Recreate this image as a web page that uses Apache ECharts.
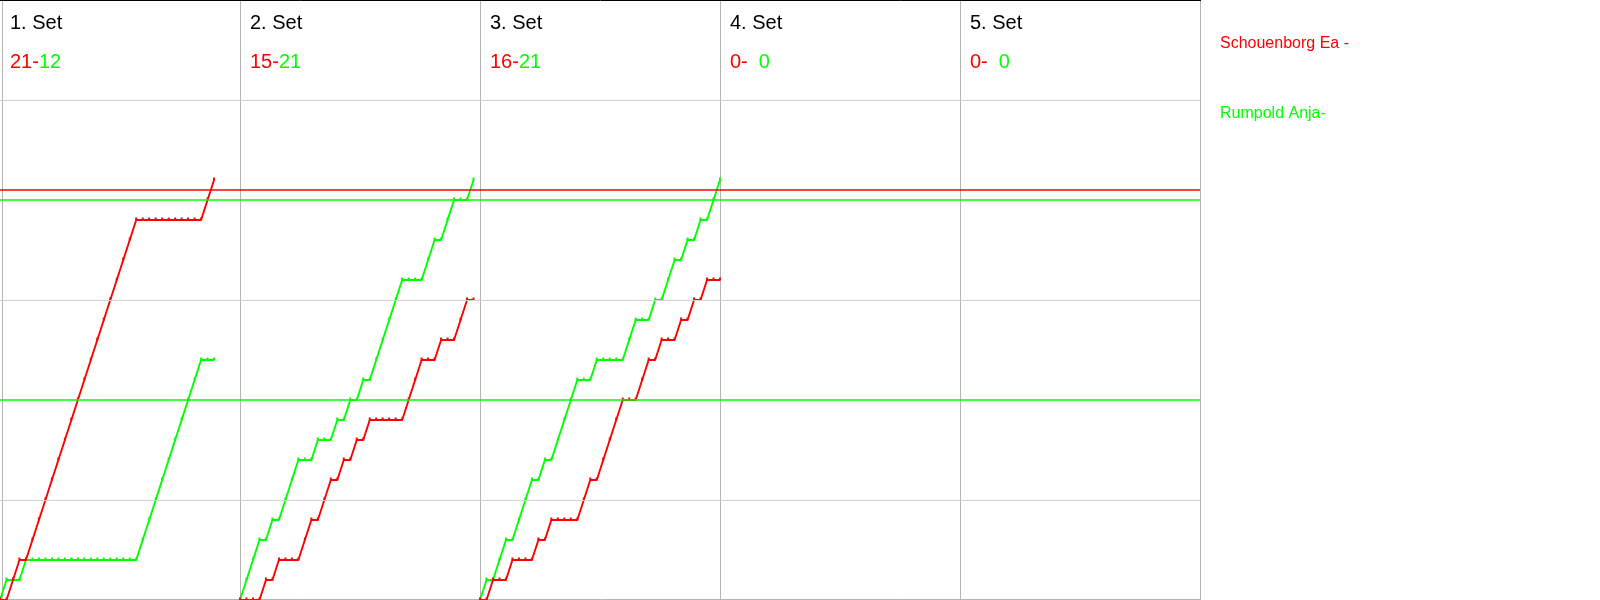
<!DOCTYPE html>
<html><head><meta charset="utf-8">
<script src="https://cdn.jsdelivr.net/npm/echarts@6/dist/echarts.min.js"></script>
<style>html,body{margin:0;padding:0;background:#fff}#c{width:1600px;height:600px}</style>
</head><body><div id="c"></div>
<script>
// ---- data ----
const setNames = ['1. Set', '2. Set', '3. Set', '4. Set', '5. Set'];
const playerNames = ['Schouenborg Ea -', 'Rumpold Anja-'];
const finalRed = [21, 15, 16, 0, 0];
const finalGreen = [12, 21, 21, 0, 0];
// cumulative score after each rally (index = rally number)
const set1Red = [0,0,1,2,2,3,4,5,6,7,8,9,10,11,12,13,14,15,16,17,18,19,19,19,19,19,19,19,19,19,19,19,20,21];
const set1Green = [0,1,1,1,2,2,2,2,2,2,2,2,2,2,2,2,2,2,2,2,2,2,3,4,5,6,7,8,9,10,11,12,12,12];
const set2Red = [0,0,0,0,1,1,2,2,2,2,3,4,4,5,6,6,7,7,8,8,9,9,9,9,9,9,10,11,12,12,12,13,13,13,14,15,15];
const set2Green = [0,1,2,3,3,4,4,5,6,7,7,7,8,8,8,9,9,10,10,11,11,12,13,14,15,16,16,16,16,17,18,18,19,20,20,20,21];
const set3Red = [0,0,1,1,1,2,2,2,2,3,3,4,4,4,4,4,5,6,6,7,8,9,10,10,10,11,12,12,13,13,13,14,14,15,15,16,16,16];
const set3Green = [0,1,1,2,3,3,4,5,6,6,7,7,8,9,10,11,11,11,12,12,12,12,12,13,14,14,14,15,15,16,17,17,18,18,19,19,20,21];
const set4Red = [];
const set4Green = [];
const set5Red = [];
const set5Green = [];
const gridScoreLines = [5, 15, 25];
const redRefLines = [20.5];
const greenRefLines = [20, 10];
const maxRallies = 37;
const maxScore = 30;

// ---- styling ----
const RED = '#ff0000', GREEN = '#00ff00';
const FONT = 'Liberation Sans, Arial, sans-serif';
const PANEL_W = 240;
const redSets = [set1Red, set2Red, set3Red, set4Red, set5Red];
const greenSets = [set1Green, set2Green, set3Green, set4Green, set5Green];

const grid = [], xAxis = [], yAxis = [], series = [], title = [];
setNames.forEach((name, i) => {
  grid.push({left: PANEL_W * i, top: 0, width: PANEL_W, height: 600});
  xAxis.push({gridIndex: i, type: 'value', min: 0, max: maxRallies, show: false});
  yAxis.push({gridIndex: i, type: 'value', min: 0, max: maxScore, show: false});
  const ml = [];
  gridScoreLines.forEach(v => ml.push({yAxis: v, lineStyle: {color: '#d3d3d3', width: 1, type: 'solid'}}));
  greenRefLines.forEach(v => ml.push({yAxis: v, lineStyle: {color: GREEN, width: 1.5, type: 'solid'}}));
  redRefLines.forEach(v => ml.push({yAxis: v, lineStyle: {color: RED, width: 1.5, type: 'solid'}}));
  series.push({
    type: 'line', xAxisIndex: i, yAxisIndex: i, data: [], silent: true, z: 1,
    markLine: {silent: true, symbol: ['none', 'none'], label: {show: false}, animation: false, data: ml}
  });
  const mk = (arr, color, z) => ({
    type: 'line', xAxisIndex: i, yAxisIndex: i, z: z, clip: false, silent: true,
    data: arr.map((v, k) => [k, v]),
    lineStyle: {color: color, width: 1.9},
    itemStyle: {color: color},
    symbol: 'rect', symbolSize: [2, 3], symbolOffset: [0, -1], showSymbol: true,
    animation: false
  });
  series.push(mk(greenSets[i], GREEN, 3));
  series.push(mk(redSets[i], RED, 4));
  title.push({
    text: name, left: PANEL_W * i + 10, top: 13, padding: 0,
    textStyle: {fontSize: 20, fontWeight: 'normal', color: '#000', fontFamily: FONT}
  });
  const g = String(finalGreen[i]);
  title.push({
    text: '{r|' + finalRed[i] + '-}{' + (g.length < 2 ? 'gp' : 'g') + '|' + g + '}',
    left: PANEL_W * i + 10, top: 52, padding: 0,
    textStyle: {fontSize: 20, fontWeight: 'normal', fontFamily: FONT,
      rich: {
        r: {color: RED, fontSize: 20, fontWeight: 'normal', fontFamily: FONT},
        g: {color: GREEN, fontSize: 20, fontWeight: 'normal', fontFamily: FONT},
        gp: {color: GREEN, fontSize: 20, fontWeight: 'normal', fontFamily: FONT, padding: [0, 0, 0, 11]}
      }}
  });
});
title.push({text: playerNames[0], left: 1220, top: 36, padding: 0,
  textStyle: {fontSize: 16, fontWeight: 'normal', color: RED, fontFamily: FONT}});
title.push({text: playerNames[1], left: 1220, top: 106, padding: 0,
  textStyle: {fontSize: 16, fontWeight: 'normal', color: GREEN, fontFamily: FONT}});

// frame lines (layout only)
const graphic = [];
[2.5, 240.5, 480.5, 720.5, 960.5, 1200.5].forEach(x => graphic.push({
  type: 'line', silent: true, z: 0, shape: {x1: x, y1: 0, x2: x, y2: 600},
  style: {stroke: '#b4b4b4', lineWidth: 1}
}));
graphic.push({type: 'line', silent: true, shape: {x1: 0, y1: 599.5, x2: 1201, y2: 599.5}, style: {stroke: '#b4b4b4', lineWidth: 1}});
graphic.push({type: 'line', silent: true, shape: {x1: 0, y1: 0.5, x2: 1201, y2: 0.5}, style: {stroke: '#000', lineWidth: 1}});

const chart = echarts.init(document.getElementById('c'), null, {renderer: 'canvas'});
chart.setOption({
  animation: false,
  backgroundColor: '#fff',
  title: title,
  grid: grid, xAxis: xAxis, yAxis: yAxis,
  series: series,
  graphic: graphic
});
</script></body></html>
